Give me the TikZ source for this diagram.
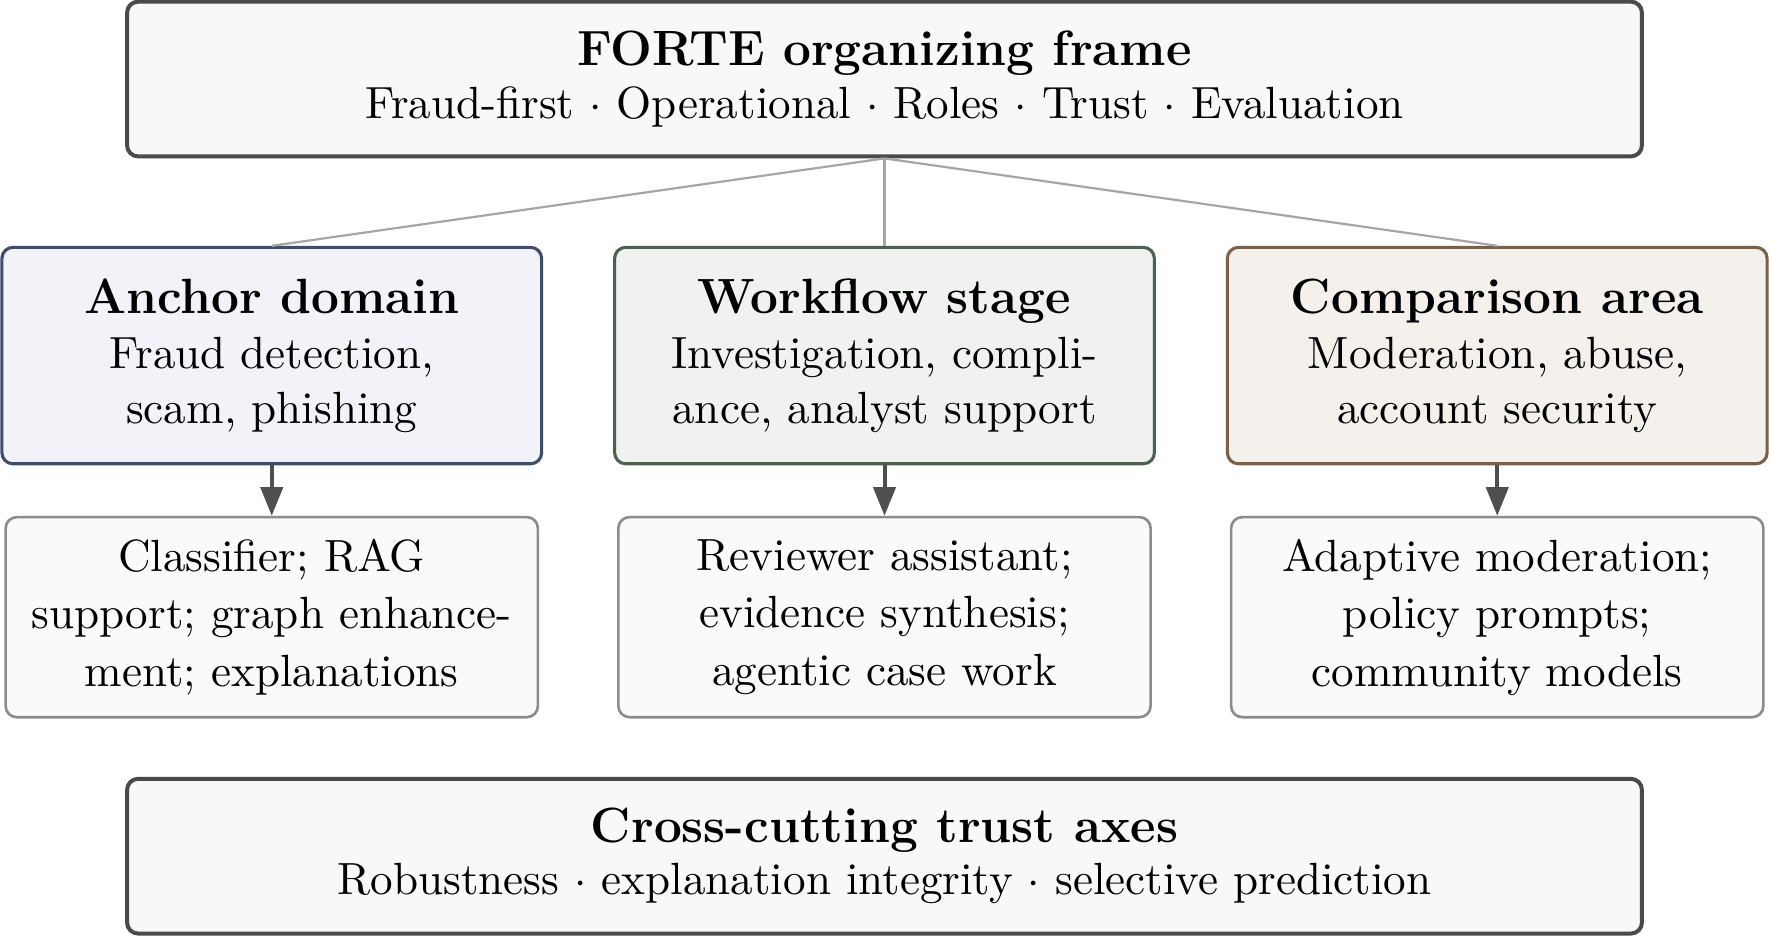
\documentclass[tikz,border=0pt]{standalone}
\usepackage{tikz}
\usetikzlibrary{arrows.meta,positioning,calc}
\definecolor{FrameBorder}{HTML}{4A4A4A}
\definecolor{FrameFill}{HTML}{F8F8F8}
\definecolor{AnchorBlue}{HTML}{3E4C6E}
\definecolor{AnchorFill}{HTML}{F1F3F8}
\definecolor{StageGreen}{HTML}{4E6151}
\definecolor{StageFill}{HTML}{EFF2EF}
\definecolor{AreaBrown}{HTML}{7C6045}
\definecolor{AreaFill}{HTML}{F4F1EC}
\definecolor{LeafBorder}{HTML}{8C8C8C}
\definecolor{LeafFill}{HTML}{FAFAFA}
\definecolor{LinkGray}{HTML}{A6A6A6}
\definecolor{ArrowGray}{HTML}{4F4F4F}
\newcommand{\headtext}[1]{{\fontsize{11.2}{13}\selectfont\bfseries #1}}

\begin{document}
\begin{tikzpicture}[
    frame/.style={
      draw=FrameBorder,
      fill=FrameFill,
      line width=0.9pt,
      minimum width=12.04cm,
      minimum height=1.23cm,
      rounded corners=2.5pt,
      align=center,
      inner sep=0pt,
      font=\fontsize{10.2}{11.8}\selectfont
    },
    area/.style={
      line width=0.7pt,
      minimum width=4.29cm,
      minimum height=1.72cm,
      rounded corners=2.5pt,
      align=center,
      inner sep=0pt,
      font=\fontsize{10.2}{12.4}\selectfont
    },
    leaf/.style={
      draw=LeafBorder,
      fill=LeafFill,
      line width=0.6pt,
      minimum width=4.23cm,
      minimum height=1.59cm,
      rounded corners=2.5pt,
      align=center,
      inner sep=0pt,
      font=\fontsize{10.2}{13}\selectfont
    },
    link/.style={
      line width=0.5pt,
      color=LinkGray
    },
    feed/.style={
      line width=0.9pt,
      color=ArrowGray,
      -{Triangle[length=6.5pt,width=5pt]}
    }
  ]
  \useasboundingbox (0,0) rectangle (14.06,-7.44);

  % Frame
  \node[frame] (forte) at (7.03,-0.628)
    {\headtext{FORTE organizing frame}\\
     Fraud-first $\cdot$ Operational $\cdot$ Roles $\cdot$ Trust $\cdot$ Evaluation};

  % Areas
  \node[area,draw=AnchorBlue,fill=AnchorFill] (anchor) at (2.16,-2.826)
    {\headtext{Anchor domain}\\
     Fraud detection,\\scam, phishing};
  \node[area,draw=StageGreen,fill=StageFill] (stage) at (7.03,-2.826)
    {\headtext{Workflow stage}\\
     Investigation, compli-\\ance, analyst support};
  \node[area,draw=AreaBrown,fill=AreaFill] (compare) at (11.90,-2.826)
    {\headtext{Comparison area}\\
     Moderation, abuse,\\account security};

  % Methods
  \node[leaf] (anchorm) at (2.16,-4.905)
    {Classifier; RAG\\support; graph enhance-\\ment; explanations};
  \node[leaf] (stagem) at (7.03,-4.905)
    {Reviewer assistant;\\evidence synthesis;\\agentic case work};
  \node[leaf] (comparem) at (11.90,-4.905)
    {Adaptive moderation;\\policy prompts;\\community models};

  % Trust axes
  \node[frame] (axes) at (7.03,-6.805)
    {\headtext{Cross-cutting trust axes}\\
     Robustness $\cdot$ explanation integrity $\cdot$ selective prediction};

  % Links
  \draw[link] (forte.south) -- (anchor.north);
  \draw[link] (forte.south) -- (stage.north);
  \draw[link] (forte.south) -- (compare.north);
  \draw[feed] (anchor) -- (anchorm);
  \draw[feed] (stage) -- (stagem);
  \draw[feed] (compare) -- (comparem);

\end{tikzpicture}
\end{document}
